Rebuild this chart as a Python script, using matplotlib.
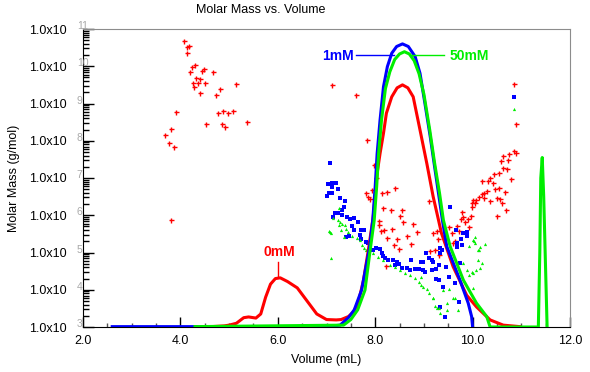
import numpy as np
import matplotlib
matplotlib.use("Agg")
import matplotlib.pyplot as plt
from matplotlib.ticker import LogLocator, MultipleLocator, NullFormatter

plt.rcParams["font.family"] = ["Liberation Sans", "DejaVu Sans"]

# --- data (volume in mL, molar mass given as log10 of g/mol) ---
red_vol = [4.5, 4.9, 5.0, 5.15, 5.3, 5.4, 5.55, 5.65, 5.75, 5.85, 5.95, 6.05, 6.2, 6.4,
           6.6, 6.8, 7.0, 7.2, 7.3, 7.45, 7.55, 7.65, 7.76, 7.86, 7.96, 8.04, 8.10, 8.17,
           8.23, 8.34, 8.45, 8.56, 8.67, 8.78, 8.92, 9.06, 9.19, 9.30, 9.36, 9.60, 9.88,
           10.08, 10.36, 10.63, 10.97]
red_logM = [3.0, 3.03, 3.05, 3.1, 3.25, 3.27, 3.24, 3.35, 3.8, 4.15, 4.3, 4.32, 4.22, 4.05,
            3.7, 3.35, 3.2, 3.19, 3.2, 3.28, 3.4, 3.64, 4.26, 5.07, 5.96, 7.13, 7.66, 8.20,
            8.74, 9.18, 9.42, 9.50, 9.42, 9.18, 8.29, 7.39, 6.50, 5.87, 5.52, 4.62, 3.85,
            3.54, 3.19, 3.05, 3.01]

blue_vol = [2.6, 7.0, 7.28, 7.45, 7.57, 7.72, 7.88, 7.95, 8.00, 8.04, 8.10, 8.17, 8.25,
            8.34, 8.44, 8.56, 8.68, 8.82, 8.92, 9.02, 9.13, 9.23, 9.33, 9.38, 9.47, 9.74,
            9.91, 9.98, 10.0]
blue_logM = [3.01, 3.01, 3.05, 3.25, 3.46, 3.99, 5.1, 5.87, 6.77, 7.66, 8.56, 9.45, 9.99,
             10.35, 10.53, 10.60, 10.53, 10.26, 9.81, 9.01, 8.11, 7.21, 6.32, 5.87, 5.16,
             4.26, 3.64, 3.28, 3.0]

green_vol = [4.3, 7.35, 7.50, 7.64, 7.79, 7.90, 7.98, 8.03, 8.07, 8.13, 8.21, 8.30, 8.40,
             8.50, 8.60, 8.70, 8.80, 8.90, 9.00, 9.12, 9.22, 9.32, 9.40, 9.54, 9.81, 10.08,
             10.29, 10.36, 11.35, 11.38, 11.40, 11.43, 11.46, 11.50, 11.53]
green_logM = [3.01, 3.05, 3.2, 3.46, 3.99, 5.1, 5.87, 6.77, 7.66, 8.56, 9.40, 9.85, 10.18,
              10.33, 10.39, 10.33, 10.15, 9.80, 9.25, 8.29, 7.4, 6.6, 5.87, 5.16, 4.26, 3.64,
              3.28, 3.0, 3.0, 5.0, 7.0, 7.55, 6.5, 4.5, 3.0]

red_pts_vol = [4.07, 4.17, 4.13, 4.13, 4.30, 4.24, 4.20, 4.33, 4.40, 4.49, 4.44, 4.66, 4.26,
               4.37, 4.51, 4.28, 4.40, 4.81, 4.73, 5.14, 3.90, 4.88, 4.77, 4.97, 5.08, 5.37,
               4.53, 4.86, 4.92, 3.80, 3.69, 3.77, 3.86, 3.81,
               7.12, 7.61, 7.84, 7.98, 8.02, 8.41, 8.25, 8.13, 7.93, 7.81, 7.86, 7.90, 8.15,
               8.32, 8.56, 8.51, 8.58, 8.78, 8.08, 8.08, 8.19, 8.35, 8.11, 8.86, 8.25, 8.45,
               8.65, 8.39, 8.49, 8.73, 8.22, 9.11,
               10.84, 10.90, 10.86, 10.89, 10.75, 10.62, 10.73, 10.58, 10.63, 10.71, 10.54,
               10.43, 10.35, 10.41, 10.31, 10.20, 10.78, 10.55, 10.45, 10.29, 10.23, 10.19,
               10.14, 10.08, 10.01, 10.05, 9.98, 9.99, 10.23, 10.36, 10.51, 10.56, 10.67,
               10.60, 10.69, 10.51, 9.78, 9.81, 9.76, 9.91, 9.96, 9.84, 9.93, 9.67, 9.52,
               9.26, 9.18, 9.58, 9.73, 9.28, 9.32, 9.23, 9.13, 9.64, 9.59]
red_pts_logM = [10.69, 10.54, 10.51, 10.36, 10.03, 9.97, 9.85, 9.69, 9.66, 9.92, 9.86, 9.84,
                9.54, 9.54, 9.56, 9.45, 9.29, 9.40, 9.22, 9.52, 8.78, 8.81, 8.74, 8.75, 8.80,
                8.51, 8.44, 8.44, 8.37, 8.31, 8.15, 7.94, 7.83, 5.87,
                9.50, 9.23, 8.02, 7.35, 6.99, 6.74, 6.63, 6.61, 6.68, 6.59, 6.50, 6.43, 6.19,
                6.14, 6.14, 5.98, 5.83, 5.77, 5.85, 5.74, 5.60, 5.62, 5.57, 5.56, 5.38, 5.35,
                5.44, 5.20, 5.09, 5.22, 4.64, 6.37,
                9.52, 8.44, 7.73, 7.68, 7.65, 7.60, 7.48, 7.46, 7.26, 7.23, 7.13,
                7.12, 7.01, 6.87, 6.93, 6.92, 6.97, 6.74, 6.70, 6.65, 6.61, 6.56,
                6.50, 6.41, 6.41, 6.34, 6.32, 6.23, 6.45, 6.38, 6.45, 6.44, 6.62,
                6.34, 6.14, 5.99, 6.10, 5.96, 5.90, 5.90, 5.99, 5.83, 5.68, 5.71, 5.68,
                5.58, 5.52, 5.52, 5.58, 5.35, 4.93, 5.07, 5.05, 5.32, 5.26]

blue_pts_vol = [7.07, 10.84, 9.54, 9.65, 9.88, 7.04, 7.11, 7.19, 7.12, 7.24, 7.05, 7.00, 7.12,
                7.28, 7.39, 7.36, 7.31, 7.24, 7.17, 7.14, 7.32, 7.43, 7.48, 7.57, 7.64, 7.52,
                7.57, 7.71, 7.78, 7.46, 7.41, 7.69, 7.71, 7.81, 7.85, 7.96, 8.02, 8.10, 8.13,
                8.17, 8.20, 8.27, 8.37, 8.44, 8.49, 8.41, 8.56, 8.65, 8.71, 8.82, 8.90, 8.99,
                8.73, 8.99, 9.81, 9.89, 9.77, 9.78, 9.67, 9.67, 9.33, 9.38, 9.33, 9.04, 9.11,
                9.16, 8.95, 9.02, 9.19, 9.30, 9.45, 9.25, 9.16, 9.30, 9.25, 9.74, 9.52, 9.40,
                9.64, 9.33, 9.43, 9.73]
blue_pts_logM = [7.39, 9.17, 6.23, 5.60, 5.56, 6.84, 6.87, 6.86, 6.75, 6.70, 6.61, 6.52, 6.61,
                 6.45, 6.39, 6.21, 6.14, 6.07, 6.05, 5.96, 6.01, 5.95, 5.89, 5.93, 5.83, 5.71,
                 5.60, 5.60, 5.60, 5.44, 5.41, 5.47, 5.35, 5.29, 5.25, 5.07, 5.11, 5.09, 4.98,
                 4.91, 4.84, 4.80, 4.80, 4.75, 4.68, 4.66, 4.59, 4.58, 4.53, 4.55, 4.55, 4.53,
                 4.80, 4.75, 5.52, 5.44, 5.35, 5.20, 5.25, 5.16, 5.11, 5.07, 4.98, 4.98, 4.84,
                 4.80, 4.75, 4.48, 4.75, 4.66, 4.60, 4.55, 4.53, 4.26, 4.29, 4.71, 4.35, 4.07,
                 4.19, 3.53, 3.28, 3.68]

green_pts_vol = [10.84, 7.26, 7.07, 7.14, 7.23, 7.28, 7.32, 7.26, 7.38, 7.30, 7.41, 7.45, 7.05,
                 7.09, 7.36, 7.53, 7.62, 7.69, 7.72, 7.76, 7.09, 7.82, 7.96, 8.06, 8.17, 8.30,
                 8.41, 8.51, 8.61, 8.71, 8.82, 8.90, 8.95, 8.99, 8.95, 9.06, 9.11, 9.18, 9.23,
                 9.26, 9.34, 9.47, 9.60, 9.52, 9.71, 9.81, 9.93, 10.05, 10.01, 9.98, 9.93,
                 10.00, 10.07, 10.15, 10.19, 10.12, 10.14, 10.05, 10.25, 10.15, 10.03, 10.01,
                 10.12, 9.88, 9.77, 9.64, 9.47, 9.40, 9.19, 9.30]
green_pts_logM = [8.84, 6.19, 5.56, 5.92, 5.87, 5.83, 5.77, 5.74, 5.74, 5.60, 5.62, 5.56, 5.59,
                  5.53, 5.41, 5.44, 5.38, 5.34, 5.20, 5.11, 4.84, 5.07, 4.98, 4.87, 4.80, 4.66,
                  4.60, 4.53, 4.44, 4.40, 4.31, 4.22, 4.13, 4.07, 4.35, 4.01, 3.90, 3.77, 3.56,
                  3.50, 3.37, 3.46, 3.77, 4.01, 3.46, 4.71, 5.17, 5.26, 4.46, 4.48, 4.40,
                  4.04, 4.53, 4.58, 4.73, 4.80, 5.07, 5.41, 5.23, 5.16, 5.32, 5.34,
                  5.07, 4.53, 4.17, 3.77, 3.64, 3.99, 3.77, 3.50]

y_exps = list(range(3, 12))
x_ticks = [2.0, 4.0, 6.0, 8.0, 10.0, 12.0]
x_labels = ["2.0", "4.0", "6.0", "8.0", "10.0", "12.0"]

RED, BLUE, GREEN = "#ff0000", "#0000ff", "#00ee00"

fig = plt.figure(figsize=(5.9, 3.72), dpi=100)
ax = fig.add_axes([83 / 590, 45 / 372, 487 / 590, 298 / 372])

# scatter points (molar mass from light scattering)
ax.plot(red_pts_vol, 10 ** np.array(red_pts_logM), "+", color=RED, ms=3.6, mew=1.0, zorder=2)
ax.plot(blue_pts_vol, 10 ** np.array(blue_pts_logM), "s", color=BLUE, ms=2.2, mew=0, zorder=2)
ax.plot(green_pts_vol, 10 ** np.array(green_pts_logM), "^", color=GREEN, ms=2.3, mew=0, zorder=2)

# detector traces
ax.plot(red_vol, 10 ** np.array(red_logM), color=RED, lw=2.2, zorder=3)
ax.plot(blue_vol, 10 ** np.array(blue_logM), color=BLUE, lw=2.2, zorder=3)
ax.plot(green_vol, 10 ** np.array(green_logM), color=GREEN, lw=2.2, zorder=3)

ax.set_yscale("log")
ax.set_xlim(2.0, 12.0)
ax.set_ylim(1e3, 1e11)

# x ticks
ax.set_xticks(x_ticks)
ax.set_xticklabels(x_labels)
ax.xaxis.set_minor_locator(MultipleLocator(0.5))
ax.tick_params(axis="x", which="major", direction="in", length=7, width=1, labelsize=9, pad=6)
ax.tick_params(axis="x", which="minor", direction="in", length=3, width=1, color="#555555")

# y ticks
ax.set_yticks([10.0 ** e for e in y_exps])
ax.set_yticklabels(["1.0x10"] * len(y_exps))
ax.yaxis.set_minor_locator(LogLocator(base=10, subs=np.arange(2, 10), numticks=20))
ax.yaxis.set_minor_formatter(NullFormatter())
ax.tick_params(axis="y", which="major", direction="in", length=8, width=1, labelsize=9, pad=12)
ax.tick_params(axis="y", which="minor", direction="in", length=4, width=1)
ax.tick_params(top=False, right=False)
for e in y_exps:
    ax.annotate(str(e), xy=(0, 10.0 ** e), xycoords=("axes fraction", "data"),
                xytext=(-4.5, 2.0), textcoords="offset points", fontsize=7.5,
                color="#a8a8a8", ha="left", va="center", annotation_clip=False)

for side in ["top", "right"]:
    ax.spines[side].set_color("#8c8c8c")
for side in ["left", "bottom"]:
    ax.spines[side].set_color("black")

ax.set_xlabel("Volume (mL)", fontsize=9, labelpad=5)
ax.set_ylabel("Molar Mass (g/mol)", fontsize=9, labelpad=6)
fig.text(261 / 590, 1 - 10 / 372, "Molar Mass vs. Volume", ha="center", va="center", fontsize=9)

# series annotations
ax.text(6.03, 10 ** 5.0, "0mM", color=RED, fontsize=10, fontweight="bold", ha="center", va="center")
ax.plot([6.0, 6.0], [10 ** 4.36, 10 ** 4.75], color=RED, lw=1, zorder=4)
ax.text(7.24, 10 ** 10.28, "1mM", color=BLUE, fontsize=10, fontweight="bold", ha="center", va="center")
ax.plot([7.6, 8.38], [10 ** 10.29, 10 ** 10.29], color=BLUE, lw=1, zorder=4)
ax.text(9.94, 10 ** 10.28, "50mM", color=GREEN, fontsize=10, fontweight="bold", ha="center", va="center")
ax.plot([8.72, 9.42], [10 ** 10.29, 10 ** 10.29], color=GREEN, lw=1, zorder=4)

fig.savefig("out.png", dpi=100)
